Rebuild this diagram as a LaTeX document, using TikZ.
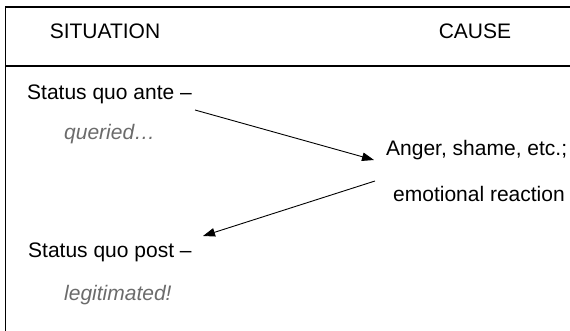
\documentclass[tikz,border=0pt]{standalone}
\usepackage{fontspec}
\setmainfont{Liberation Sans}
\usetikzlibrary{arrows.meta}
\tikzset{
  frameline/.style={line width=1.4pt, black},
  txt/.style={inner sep=0pt, anchor=base west, font=\fontsize{21}{25}\selectfont},
  note/.style={txt, text=black!58, font=\fontsize{21}{25}\selectfont\itshape},
  hdr/.style={inner sep=0pt, anchor=base, font=\fontsize{21}{25}\selectfont},
  flow/.style={line width=0.9pt, -{Triangle[length=12pt,width=8.5pt]}}
}
\begin{document}
\begin{tikzpicture}[x=1pt,y=-1pt]
\useasboundingbox (0,0) rectangle (570,331);
% frame
\coordinate (tl) at (5.5,7);
\coordinate (tr) at (570,7);
\coordinate (bl) at (5.5,331);
\coordinate (ml) at (5.5,66);
\coordinate (mr) at (570,66);
\draw[frameline] (tr) -- (tl) -- (bl);
\draw[frameline] (ml) -- (mr);
% headers
\node[hdr] (sit) at (105,38.5) {SITUATION};
\node[hdr] (cause) at (475,38.5) {CAUSE};
% texts
\node[txt] (ante) at (27,100) {Status quo ante –};
\node[note] (queried) at (64,140) {queried…};
\node[txt] (anger) at (386,156) {Anger, shame, etc.;};
\node[txt] (emo) at (393,201) {emotional reaction};
\node[txt] (post) at (28,257) {Status quo post –};
\node[note] (legit) at (64,300) {legitimated!};
% arrows
\coordinate (a1s) at (195,110);
\coordinate (a1e) at (374,160);
\coordinate (a2s) at (375,181);
\coordinate (a2e) at (203,236);
\draw[flow] (a1s) -- (a1e);
\draw[flow] (a2s) -- (a2e);
\end{tikzpicture}
\end{document}
